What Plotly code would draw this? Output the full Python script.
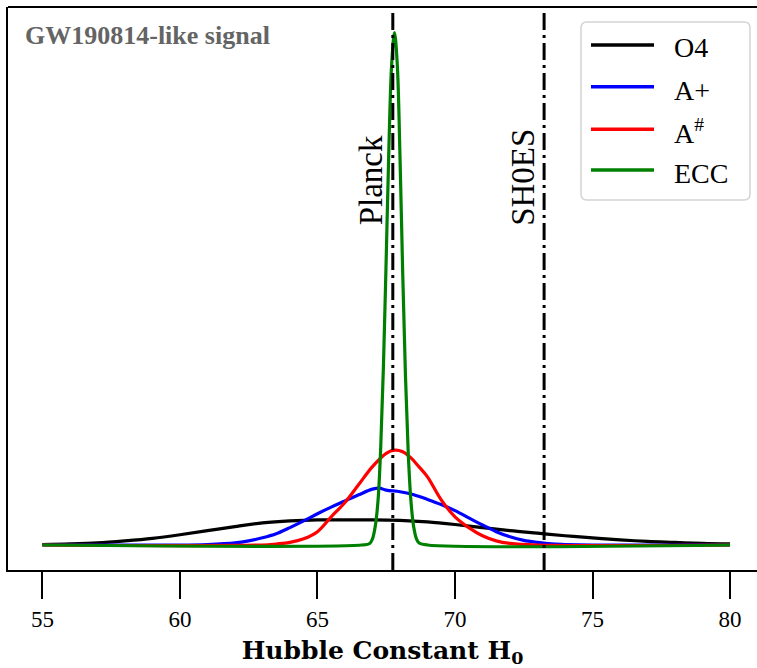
import plotly.graph_objects as go

# ---------------- data ----------------
x_o4 = [55, 56, 57, 58, 59, 60, 61, 62, 63, 64, 65, 66, 67, 68, 69, 70,
        71, 72, 73, 74, 75, 76, 77, 78, 79, 80]
y_o4 = [0.001, 0.002, 0.004, 0.008, 0.013, 0.020, 0.028, 0.036, 0.043, 0.047,
        0.049, 0.049, 0.049, 0.048, 0.045, 0.040, 0.034, 0.028, 0.023, 0.018,
        0.014, 0.010, 0.007, 0.005, 0.003, 0.002]

x_ap = [55, 60, 61, 62, 62.5, 63, 63.5, 64, 64.5, 65, 65.5, 66, 66.5, 67, 67.25,
        67.5, 68, 68.5, 69, 69.5, 70, 70.5, 71, 71.5, 72, 72.5, 73, 73.5, 74, 75, 80]
y_ap = [0, 0, 0.001, 0.004, 0.008, 0.014, 0.022, 0.034, 0.047, 0.061, 0.074,
        0.086, 0.098, 0.109, 0.111, 0.107, 0.104, 0.098, 0.089, 0.079, 0.067,
        0.053, 0.039, 0.026, 0.016, 0.009, 0.005, 0.002, 0.001, 0, 0]

x_ash = [55, 63, 63.5, 64, 64.5, 65, 65.5, 66, 66.5, 67, 67.5, 67.8, 68.1, 68.4,
         68.7, 69, 69.5, 70, 70.5, 71, 71.5, 72, 73, 80]
y_ash = [0, 0, 0.002, 0.005, 0.012, 0.026, 0.055, 0.083, 0.118, 0.153, 0.179,
         0.185, 0.182, 0.170, 0.152, 0.133, 0.088, 0.055, 0.034, 0.018, 0.008,
         0.003, 0, 0]

x_ecc = [55, 66.6, 66.9, 67.0, 67.1, 67.2, 67.3, 67.4, 67.5, 67.6, 67.7, 67.8,
         67.9, 68.0, 68.1, 68.2, 68.3, 68.4, 68.5, 68.6, 68.7, 69.0, 80]
y_ecc = [0, 0, 0.003, 0.012, 0.036, 0.085, 0.19, 0.35, 0.56, 0.78, 0.94, 1.0,
         0.94, 0.76, 0.53, 0.33, 0.18, 0.085, 0.035, 0.012, 0.004, 0, 0]

series_names = ["O4", "A+", "A<sup>#</sup>", "ECC"]
series_colors = ["#000000", "#0000ff", "#ff0000", "#008000"]

h0_planck = 67.74
h0_shoes = 73.24
ref_names = ["Planck", "SH0ES"]

x_ticks = [55, 60, 65, 70, 75, 80]
title_text = "GW190814-like signal"
x_label = "<b>Hubble Constant H<sub>0</sub></b>"

# ---------------- layout geometry ----------------
W, H = 757, 668
ML, MR, MT, MB = 8, 0, 7, 98
PW, PH = W - ML - MR, H - MT - MB


def px(xp):
    return (xp - ML) / PW


def py(yp):
    return (H - MB - yp) / PH


SERIF = "Liberation Serif"

fig = go.Figure()
xs = [x_o4, x_ap, x_ash, x_ecc]
ys = [y_o4, y_ap, y_ash, y_ecc]
for xv, yv, nm, col in zip(xs, ys, series_names, series_colors):
    fig.add_trace(go.Scatter(x=xv, y=yv, mode="lines", name=nm,
                             line=dict(color=col, width=3.2, shape="spline", smoothing=1.0),
                             showlegend=False, hoverinfo="skip"))

shapes = []
annotations = []
DASH = "17px,5px,3px,5px"
for xv, nm, shift in [(h0_planck, ref_names[0], -22.3), (h0_shoes, ref_names[1], -20.6)]:
    shapes.append(dict(type="line", xref="x", yref="paper", x0=xv, x1=xv, y0=0, y1=1,
                       line=dict(color="black", width=3, dash=DASH), layer="above"))
    annotations.append(dict(x=xv, y=0.619, xref="x", yref="y", text=nm, showarrow=False,
                            textangle=-90, xanchor="center", yanchor="bottom", xshift=shift,
                            font=dict(family=SERIF, size=33, color="black")))

# top spine
shapes.append(dict(type="line", xref="paper", yref="paper", x0=0, x1=1, y0=1, y1=1,
                   line=dict(color="black", width=1.8)))

# title text
annotations.append(dict(x=px(23), y=py(19), xref="paper", yref="paper", text="<b>%s</b>" % title_text,
                        showarrow=False, xanchor="left", yanchor="top",
                        font=dict(family=SERIF, size=26, color="#646464")))

# custom legend
bx0, bx1, by0, by1, r = 581, 750, 22, 200, 6
path = ("M {a},{b} L {c},{b} Q {d},{b} {d},{e} L {d},{f} Q {d},{g} {c},{g} "
        "L {a},{g} Q {h},{g} {h},{f} L {h},{e} Q {h},{b} {a},{b} Z").format(
    a=px(bx0 + r), b=py(by0), c=px(bx1 - r), d=px(bx1), e=py(by0 + r),
    f=py(by1 - r), g=py(by1), h=px(bx0))
shapes.append(dict(type="path", xref="paper", yref="paper", path=path,
                   fillcolor="rgba(255,255,255,0.85)", line=dict(color="#d4d4d4", width=1.5),
                   layer="above"))
line_y = [45, 86.7, 129.3, 170]
text_y = [48, 90, 131.5, 173]
for nm, col, ly, ty in zip(series_names, series_colors, line_y, text_y):
    shapes.append(dict(type="line", xref="paper", yref="paper", x0=px(591), x1=px(654),
                       y0=py(ly), y1=py(ly), line=dict(color=col, width=3.6), layer="above"))
    annotations.append(dict(x=px(672), y=py(ty), xref="paper", yref="paper", text=nm,
                            showarrow=False, xanchor="left", yanchor="middle",
                            font=dict(family=SERIF, size=28, color="black")))

fig.update_layout(
    width=W, height=H, margin=dict(l=ML, r=MR, t=MT, b=MB),
    paper_bgcolor="white", plot_bgcolor="white",
    shapes=shapes, annotations=annotations, showlegend=False,
    xaxis=dict(range=[53.75, 80.98], tickvals=x_ticks, ticks="outside", ticklen=27,
               tickwidth=2, tickcolor="black", showline=True, linecolor="black", linewidth=1.8,
               showgrid=False, zeroline=False,
               tickfont=dict(family=SERIF, size=23, color="black"),
               title=dict(text=x_label, standoff=13,
                          font=dict(family="DejaVu Serif", size=25, color="black"))),
    yaxis=dict(range=[-0.0488, 1.050], showticklabels=False, ticks="", showline=True,
               linecolor="black", linewidth=1.8, showgrid=False, zeroline=False),
)

fig.write_html("out.html")
